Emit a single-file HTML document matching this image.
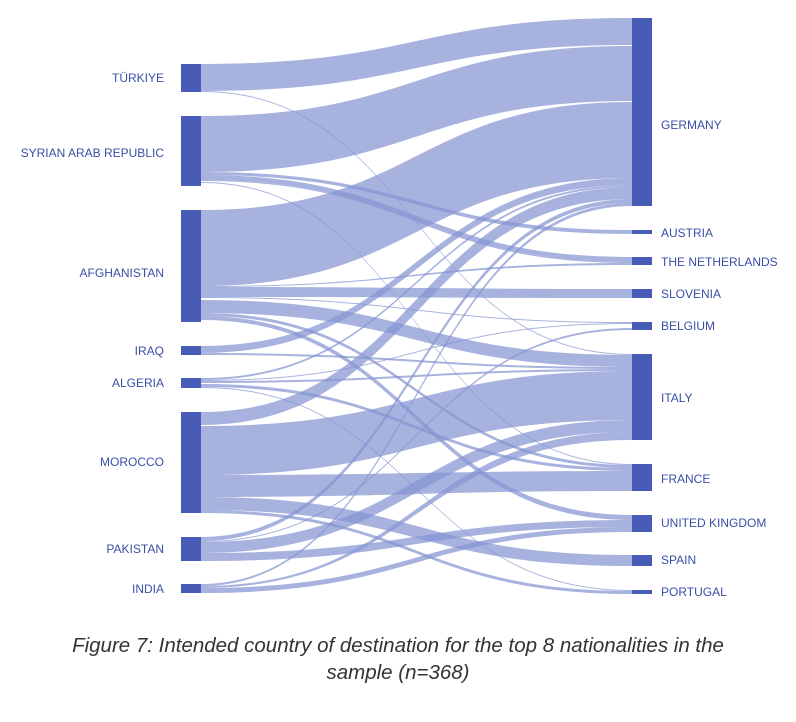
<!DOCTYPE html>
<html><head><meta charset="utf-8"><style>
body{margin:0;background:#fff;width:796px;height:722px;overflow:hidden;font-family:"Liberation Sans",sans-serif}
svg text{font-family:"Liberation Sans",sans-serif;font-size:12px;fill:#3a4ea6}
.cap{position:absolute;left:0;width:796px;text-align:center;font-style:italic;font-size:20.5px;color:#333;line-height:27px;top:632px}
</style></head><body>
<svg id="s" width="796" height="722" style="position:absolute;left:0;top:0">
<g id="links"></g>
<g fill="#485cb7">
<rect x="181" y="64" width="20" height="28"/><rect x="181" y="116" width="20" height="70"/>
<rect x="181" y="210" width="20" height="112"/><rect x="181" y="346" width="20" height="9"/>
<rect x="181" y="378" width="20" height="10"/><rect x="181" y="412" width="20" height="101"/>
<rect x="181" y="537" width="20" height="24"/><rect x="181" y="584" width="20" height="9"/>
<rect x="632" y="18" width="20" height="188"/><rect x="632" y="230" width="20" height="4"/>
<rect x="632" y="257" width="20" height="8"/><rect x="632" y="289" width="20" height="9"/>
<rect x="632" y="322" width="20" height="8"/><rect x="632" y="354" width="20" height="86"/>
<rect x="632" y="464" width="20" height="27"/><rect x="632" y="515" width="20" height="17"/>
<rect x="632" y="555" width="20" height="11"/><rect x="632" y="590" width="20" height="4"/>
</g>
<g text-anchor="end">
<text x="164" y="82">TÜRKIYE</text><text x="164" y="157">SYRIAN ARAB REPUBLIC</text>
<text x="164" y="277">AFGHANISTAN</text><text x="164" y="355">IRAQ</text>
<text x="164" y="387">ALGERIA</text><text x="164" y="466">MOROCCO</text>
<text x="164" y="553">PAKISTAN</text><text x="164" y="593">INDIA</text>
</g>
<g>
<text x="661" y="129">GERMANY</text><text x="661" y="237">AUSTRIA</text>
<text x="661" y="266">THE NETHERLANDS</text><text x="661" y="298">SLOVENIA</text>
<text x="661" y="330">BELGIUM</text><text x="661" y="402">ITALY</text>
<text x="661" y="483">FRANCE</text><text x="661" y="527">UNITED KINGDOM</text>
<text x="661" y="564">SPAIN</text><text x="661" y="596">PORTUGAL</text>
</g>
</svg>
<div class="cap">Figure 7: Intended country of destination for the top 8 nationalities in the<br>sample (n=368)</div>
<script>
var L=[[64,91,18,45],[91,92,354,355],
[116,172,46,101],[172,175,230,234],[175,180,257,262],[180,181,262,263],[182,183,464,465],
[210,286,102,178],[286,287,263,265],[287,297,289,298],[297,298,322,323],[300,313,355,367],[313,316,465,468],[316,320,515,520],
[346,353,178,185],[353,355,367,369],
[378,380,185,187],[380,381,323,324],[381,383,369,371],[384,387,468,471],[387,388,590,591],
[412,425,187,199],[426,475,371,420],[475,497,471,491],[497,510,555,566],[510,513,591,594],
[537,541,199,203],[541,542,328,330],[542,553,420,432],[553,561,520,527],
[584,586,203,206],[586,588,432,440],[588,593,527,532]];
var g=document.getElementById('links'),h='',x0=201,x1=632,m=(x0+x1)/2;
L.forEach(function(a){h+='<path d="M'+x0+','+a[0]+'C'+m+','+a[0]+' '+m+','+a[2]+' '+x1+','+a[2]+'L'+x1+','+a[3]+'C'+m+','+a[3]+' '+m+','+a[1]+' '+x0+','+a[1]+'Z" fill="#8594d3" fill-opacity="0.72"/>';});
g.innerHTML=h;
</script>
</body></html>
